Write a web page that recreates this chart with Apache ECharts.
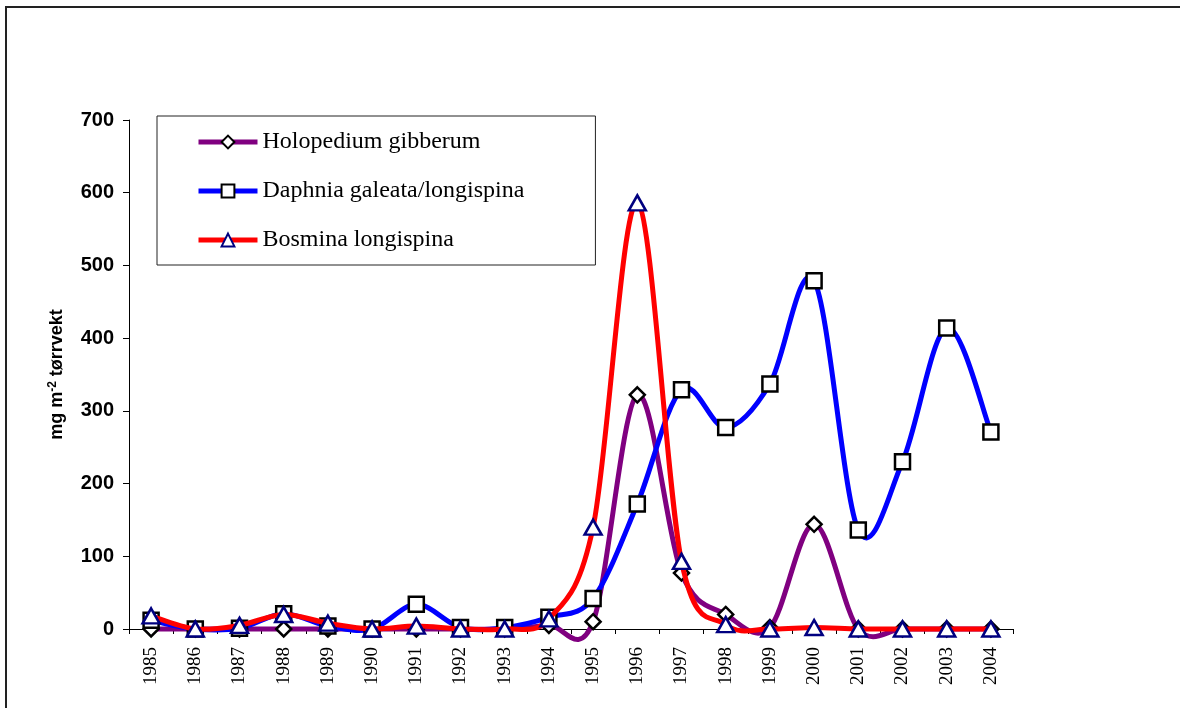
<!DOCTYPE html>
<html>
<head>
<meta charset="utf-8">
<script src="https://cdn.jsdelivr.net/npm/echarts@6/dist/echarts.min.js"></script>
<style>
  html, body { margin: 0; padding: 0; background: #fff; }
  #main { width: 1180px; height: 708px; }
</style>
</head>
<body>
<div id="main"></div>
<script>
var years = ['1985','1986','1987','1988','1989','1990','1991','1992','1993','1994',
             '1995','1996','1997','1998','1999','2000','2001','2002','2003','2004'];
var holopedium = [0, 0, 0, 0, 0, 0, 0, 0, 0, 5, 10, 322, 77, 20, 2, 144, 0, 0, 0, 0];
var daphnia    = [12, 0, 1, 21, 4, 0, 34, 2, 2, 16, 42, 172, 329, 277, 337, 479, 136, 230, 414, 271];
var bosmina    = [18, 0, 5, 20, 8, 0, 4, 0, 0, 14, 140, 586, 93, 6, 0, 2, 0, 0, 0, 0];
var seriesNames = ['Holopedium gibberum', 'Daphnia galeata/longispina', 'Bosmina longispina'];
var lineColors = ['#800080', '#0000ff', '#ff0000'];

// Excel-like smoothed curve: one bezier segment per point pair (catmull-rom style)
function curveSeries(values, color, idx) {
    return {
        name: 'curve' + idx,
        type: 'custom',
        z: 2 + idx * 2,
        silent: true,
        data: values.map(function (v, i) { return [i, v]; }),
        encode: { x: 0, y: 1 },
        renderItem: function (params, api) {
            var i = params.dataIndex;
            var n = values.length;
            if (i >= n - 1) return null;
            var p0 = api.coord([Math.max(i - 1, 0), values[Math.max(i - 1, 0)]]);
            var p1 = api.coord([i, values[i]]);
            var p2 = api.coord([i + 1, values[i + 1]]);
            var p3 = api.coord([Math.min(i + 2, n - 1), values[Math.min(i + 2, n - 1)]]);
            return {
                type: 'bezierCurve',
                shape: {
                    x1: p1[0], y1: p1[1],
                    x2: p2[0], y2: p2[1],
                    cpx1: p1[0] + (p2[0] - p0[0]) / 6, cpy1: p1[1] + (p2[1] - p0[1]) / 6,
                    cpx2: p2[0] - (p3[0] - p1[0]) / 6, cpy2: p2[1] - (p3[1] - p1[1]) / 6
                },
                style: { stroke: color, lineWidth: 5, fill: null, lineCap: 'round' }
            };
        }
    };
}

function markerSeries(name, values, color, symbol, size, border, idx) {
    return {
        name: name, type: 'line', data: values, z: 3 + idx * 2,
        symbol: symbol, symbolSize: size, showAllSymbol: true,
        lineStyle: { color: color, width: 5, opacity: 0 },
        itemStyle: { color: '#fff', borderColor: border, borderWidth: 2.5 },
        color: color
    };
}

window.onload = function () {
    var myChart = echarts.init(document.getElementById('main'));
    var option = {
        backgroundColor: '#fff',
        animation: false,
        graphic: [
            { type: 'line', shape: { x1: 6, y1: 7, x2: 1180, y2: 7 }, style: { stroke: '#222', lineWidth: 2 } },
            { type: 'line', shape: { x1: 6, y1: 6, x2: 6, y2: 708 }, style: { stroke: '#222', lineWidth: 2 } }
        ],
        legend: {
            orient: 'vertical',
            left: 157,
            top: 116,
            padding: [14, 71, 13, 39],
            itemGap: 25,
            itemWidth: 59,
            itemHeight: 16,
            borderColor: '#222',
            borderWidth: 1,
            lineStyle: { width: 5, opacity: 1 },
            textStyle: { fontFamily: 'Liberation Serif', fontSize: 24, color: '#000' },
            data: seriesNames
        },
        grid: { left: 129, right: 167, top: 120, bottom: 79 },
        xAxis: {
            type: 'category',
            data: years,
            boundaryGap: true,
            axisLine: { lineStyle: { color: '#000', width: 1 } },
            axisTick: { show: true, length: 5, lineStyle: { color: '#000' } },
            axisLabel: { rotate: 90, margin: 18, fontFamily: 'Liberation Serif', fontSize: 19, color: '#000' }
        },
        yAxis: {
            type: 'value',
            min: 0,
            max: 700,
            interval: 100,
            name: 'mg m{sup|-2} tørrvekt',
            nameLocation: 'middle',
            nameRotate: 90,
            nameGap: 62,
            nameTextStyle: {
                fontFamily: 'Liberation Sans', fontSize: 18, fontWeight: 'bold', color: '#000',
                rich: { sup: { fontFamily: 'Liberation Sans', fontSize: 12, fontWeight: 'bold', color: '#000', verticalAlign: 'top', padding: [0, 0, 8, 0] } }
            },
            axisLine: { show: true, lineStyle: { color: '#000', width: 1 } },
            axisTick: { show: true, length: 6, lineStyle: { color: '#000' } },
            splitLine: { show: false },
            axisLabel: { margin: 15, fontFamily: 'Liberation Sans', fontSize: 20, fontWeight: 'bold', color: '#000' }
        },
        series: [
            curveSeries(holopedium, lineColors[0], 0),
            markerSeries(seriesNames[0], holopedium, lineColors[0], 'diamond', 15, '#000', 0),
            curveSeries(daphnia, lineColors[1], 1),
            markerSeries(seriesNames[1], daphnia, lineColors[1], 'rect', 15, '#000', 1),
            curveSeries(bosmina, lineColors[2], 2),
            markerSeries(seriesNames[2], bosmina, lineColors[2], 'triangle', [17, 15], '#000080', 2)
        ]
    };
    myChart.setOption(option);
};
</script>
</body>
</html>
